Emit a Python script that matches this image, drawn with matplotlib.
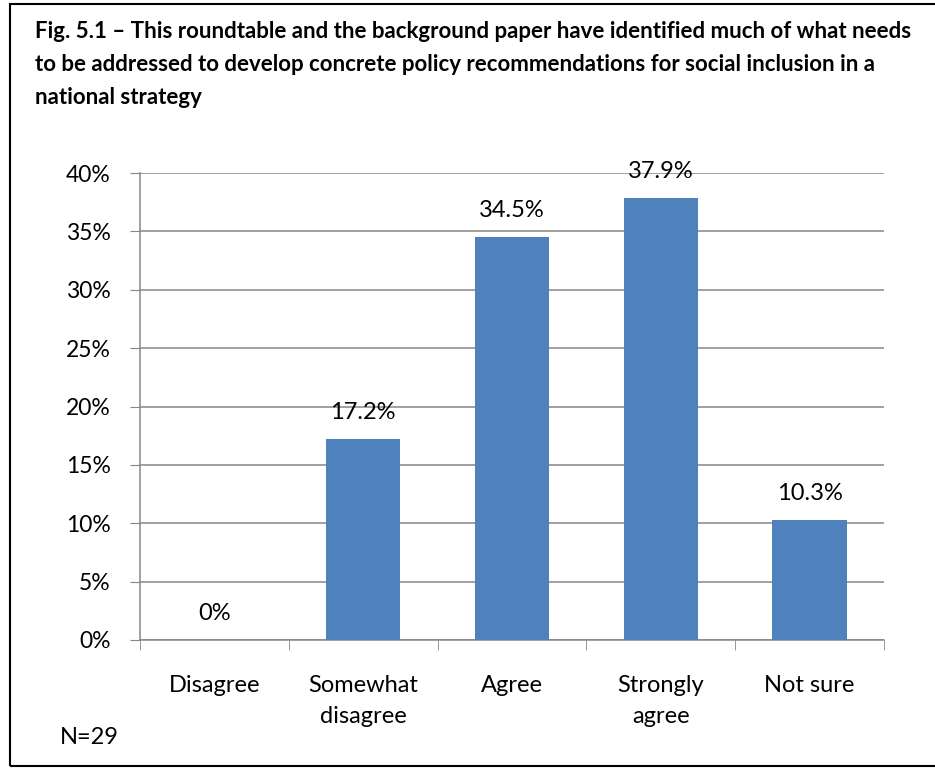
import matplotlib
matplotlib.use("Agg")
import matplotlib.pyplot as plt
from matplotlib.patches import Rectangle

categories = ["Disagree", "Somewhat\ndisagree", "Agree", "Strongly\nagree", "Not sure"]
values = [0.0, 17.2, 34.5, 37.9, 10.3]
value_labels = ["0%", "17.2%", "34.5%", "37.9%", "10.3%"]
yticks = [0, 5, 10, 15, 20, 25, 30, 35, 40]
title = ("Fig. 5.1 \u2013 This roundtable and the background paper have identified much of what needs\n"
         "to be addressed to develop concrete policy recommendations for social inclusion in a\n"
         "national strategy")
note = "N=29"

plt.rcParams['font.family'] = ['Lato', 'DejaVu Sans']

fig = plt.figure(figsize=(9.35, 7.7), dpi=100)
# outer frame, right edge is cut off in the original
fig.patches.append(Rectangle((10 / 935, 4 / 770), 940 / 935, 762 / 770, transform=fig.transFigure,
                             fill=False, edgecolor="black", linewidth=1.5, clip_on=False))

ax = fig.add_axes([140 / 935, 1 - 640 / 770, 744 / 935, 467 / 770])
x = list(range(len(categories)))
ax.bar(x, values, width=0.5, color="#4F81BD", zorder=3)

for xi, v, lab in zip(x, values, value_labels):
    ax.annotate(lab, (xi, v), xytext=(0, 19), textcoords="offset points",
                ha="center", va="center", fontsize=17, color="black", zorder=4)

ax.set_xlim(-0.5, len(categories) - 0.5)
ax.set_ylim(0, 40)
ax.set_yticks(yticks)
ax.set_yticklabels([f"{t}%" for t in yticks], fontsize=16.5)
ax.set_xticks(x)
ax.set_xticklabels(categories, fontsize=17, linespacing=1.6)
ax.set_xticks([i - 0.5 for i in range(len(categories) + 1)], minor=True)
ax.tick_params(axis="x", which="major", length=0, pad=25)
ax.tick_params(axis="x", which="minor", length=7, color="#868686")
ax.tick_params(axis="y", length=7, color="#868686", pad=14)
for lbl in ax.get_xticklabels():
    lbl.set_verticalalignment("top")

ax.yaxis.grid(True, color="#868686", linewidth=1.1, zorder=0)
for s in ["top", "right"]:
    ax.spines[s].set_visible(False)
ax.spines["left"].set_color("#868686")
ax.spines["bottom"].set_color("#868686")
ax.spines["left"].set_linewidth(1.1)
ax.spines["bottom"].set_linewidth(1.1)

fig.text(35 / 935, 1 - 21 / 770, title, ha="left", va="top", fontsize=16,
         fontweight="bold", linespacing=1.72)
fig.text(60 / 935, 1 - 737 / 770, note, ha="left", va="center", fontsize=17)

fig.savefig("out.png", dpi=100)
